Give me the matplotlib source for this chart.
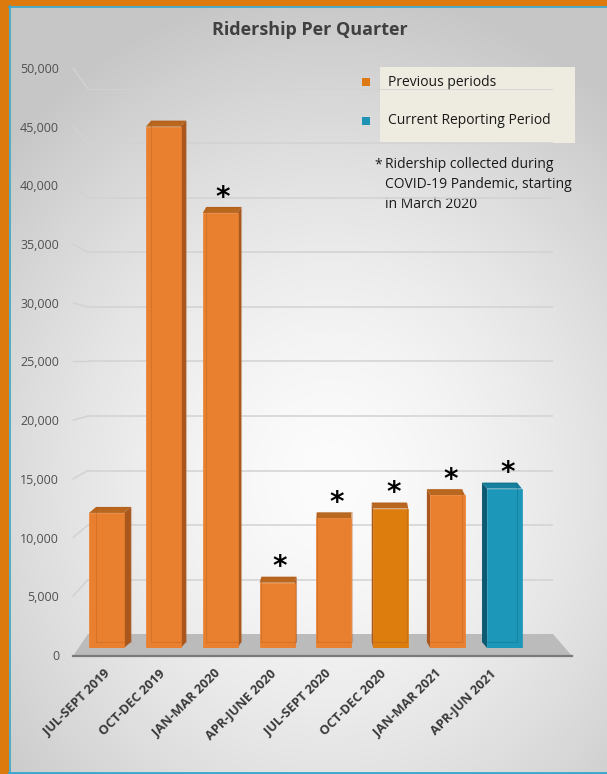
import numpy as np
import matplotlib.pyplot as plt
from matplotlib.patches import Rectangle, Polygon, ConnectionPatch
from matplotlib import transforms

plt.rcParams['font.family'] = ['Open Sans', 'DejaVu Sans']

# ---------------- data ----------------
quarters = ["JUL-SEPT 2019", "OCT-DEC 2019", "JAN-MAR 2020", "APR-JUNE 2020",
            "JUL-SEPT 2020", "OCT-DEC 2020", "JAN-MAR 2021", "APR-JUN 2021"]
riders = [12200, 47100, 39300, 5900, 11700, 12600, 13800, 14400]
is_current = [False, False, False, False, False, False, False, True]
covid = [False, False, True, True, True, True, True, True]
series_names = ["Previous periods", "Current Reporting Period"]
yticks = list(range(0, 50001, 5000))
title = "Ridership Per Quarter"
note = "Ridership collected during\nCOVID-19 Pandemic, starting\nin March 2020"

# ---------------- styles ----------------
orange, blue = '#E9802F', '#1C97B9'
face = [blue if c else orange for c in is_current]
face[5] = '#DC7D0E'
side = ['#0C5A72' if c else '#A9571D' for c in is_current]
top = ['#17809E' if c else '#B9661F' for c in is_current]

W, H = 607, 774
fig = plt.figure(figsize=(W / 100, H / 100), dpi=100)

def box(x0, y0, x1, y1):
    # pixel box measured from the top-left corner
    return [x0 / W, 1 - y1 / H, (x1 - x0) / W, (y1 - y0) / H]

# background, border, floor
bg = fig.add_axes([0, 0, 1, 1], zorder=-10)
yy, xx = np.mgrid[0:H, 0:W] + 0.5
r = np.sqrt(((xx - 330) / 450) ** 2 + ((yy - 480) / 500) ** 2)
g = np.clip(252 - 55 * r ** 1.5, 198, 255) / 255
bg.imshow(np.dstack([g, g, g]), extent=[0, W, H, 0], aspect='auto', interpolation='bilinear')
bg.set_xlim(0, W)
bg.set_ylim(H, 0)
bg.axis('off')
bg.add_patch(Rectangle((0, 0), 9, H, color='#DD7A0E', lw=0))
bg.add_patch(Rectangle((0, 0), W, 6, color='#DD7A0E', lw=0))
bg.plot([9.5, 9.5], [6, 772], color='#3AA6C8', lw=1.2)
bg.plot([9, W], [6.5, 6.5], color='#3AA6C8', lw=1.2)
bg.plot([9, W], [772.5, 772.5], color='#3AA6C8', lw=2)
bg.add_patch(Polygon([(88, 634), (553, 634), (572, 656), (73, 656)], closed=True,
                     facecolor='#BBBBBB', edgecolor='none'))
bg.plot([73, 572], [656, 656], color='#7A7A7A', lw=1.6)

bg.text(310, 30, title, ha='center', va='center', fontsize=13,
        fontweight='bold', color='#404040')

# legend
bg.add_patch(Rectangle((380, 67), 195, 76, color='#EEEBE0', lw=0))
for k, (name, col) in enumerate(zip(series_names, ['#DD7A14', '#1F93B5'])):
    yc = 82 + 39 * k
    bg.add_patch(Rectangle((362, yc - 4), 8, 8, color=col, lw=0))
    bg.text(388, yc, name, ha='left', va='center', fontsize=10, color='#1A1A1A')
bg.text(374, 157, "*", ha='left', va='top', fontsize=10, color='#1A1A1A')
bg.text(385, 157, note, ha='left', va='top', fontsize=10, color='#1A1A1A',
        linespacing=1.47)

# back wall gridlines
ax_wall = fig.add_axes(box(88, 89, 553, 634), zorder=-5)
ax_wall.set_xlim(0, 1)
ax_wall.set_ylim(0, 50000)
ax_wall.hlines(yticks[1:], 0, 1, color='#D2D2D2', lw=1.1)
ax_wall.axis('off')

# value labels on the front-left edge
ax_lab = fig.add_axes(box(73, 68, 88, 655), zorder=-5)
ax_lab.set_xlim(0, 1)
ax_lab.set_ylim(0, 50000)
ax_lab.set_yticks(yticks)
ax_lab.set_yticklabels([f"{v:,}" for v in yticks], fontsize=9, color='#505050')
ax_lab.tick_params(axis='y', length=0, pad=10)
ax_lab.set_xticks([])
for s in ax_lab.spines.values():
    s.set_visible(False)
ax_lab.patch.set_alpha(0)
for v in yticks[1:]:
    fig.add_artist(ConnectionPatch((0, v), (0, v), coordsA=ax_lab.transData,
                                   coordsB=ax_wall.transData, color='#D2D2D2', lw=1.1,
                                   zorder=-6))

# bars
ax = fig.add_axes(box(78.07, 94.5, 532.9, 648))
ax.set_xlim(-0.5, 7.5)
ax.set_ylim(0, 50000)
ax.axis('off')
sx = (532.9 - 78.07) / 8
sy = (648 - 94.5) / 50000
w = 0.615
dy = 6 / sy
xs = np.arange(len(quarters))

for i, v in enumerate(riders):
    dpx = 1.7 * (4.1 - i)
    dx = dpx / sx
    l, rr = i - w / 2, i + w / 2
    ax.add_patch(Polygon([(l, v), (rr, v), (rr + dx, v + dy), (l + dx, v + dy)],
                         closed=True, facecolor=top[i], edgecolor='none', zorder=1))
    e = rr if dx > 0 else l
    ax.add_patch(Polygon([(e, 0), (e, v), (e + dx, v + dy), (e + dx, dy)],
                         closed=True, facecolor=side[i], edgecolor='none', zorder=1))

ax.bar(xs, riders, width=w, color=face, edgecolor=face, lw=0.5, zorder=2)

for i, v in enumerate(riders):
    dx = 1.7 * (4.1 - i) / sx
    ax.add_patch(Rectangle((i - w / 2 + dx, dy), w, v, fill=False,
                           edgecolor=side[i], lw=0.8, alpha=0.3, zorder=3))
    if covid[i]:
        ax.annotate("*", (i, v), xytext=(2, 1), textcoords='offset points',
                    ha='center', va='bottom', fontsize=20, fontweight='bold',
                    family='DejaVu Sans', color='black')
    off = transforms.offset_copy(ax.get_xaxis_transform(), fig=fig,
                                 x=1.7 * (4.1 - i) - 10, y=-19, units='dots')
    ax.text(i, 0, quarters[i], transform=off, rotation=45, rotation_mode='anchor',
            ha='right', va='top', fontsize=9.3, fontweight='bold', color='#3A3A3A')

fig.savefig("out.png", dpi=100)
